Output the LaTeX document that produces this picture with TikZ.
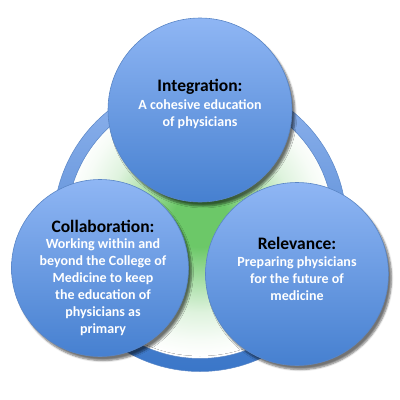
\documentclass[tikz,border=0pt]{standalone}
\usepackage{fontspec}
\setmainfont{Carlito}
\usetikzlibrary{shadows.blur}
\definecolor{ctop}{HTML}{8FB6F4}
\definecolor{cbot}{HTML}{4680D0}
\definecolor{cline}{HTML}{5A86C6}
\definecolor{rtop}{HTML}{90B4EE}
\definecolor{rbot}{HTML}{3A76C8}
\definecolor{gin}{HTML}{6CC868}
\pgfdeclareradialshading{greenfade}{\pgfpoint{0bp}{0bp}}{color(0bp)=(gin); color(5bp)=(gin); color(11bp)=(gin!60!white); color(17bp)=(gin!22!white); color(22bp)=(gin!6!white); color(25bp)=(white); color(50bp)=(white)}
\tikzset{
  bubble/.style={circle, draw=cline, line width=0.6pt, top color=ctop, bottom color=cbot, inner sep=0pt,
    blur shadow={shadow xshift=3pt, shadow yshift=-4pt, shadow blur steps=6, shadow opacity=55}},
  ttl/.style={font=\bfseries\fontsize{17.5}{20}\selectfont, text=black},
  bdy/.style={font=\bfseries\fontsize{14}{17}\selectfont, text=white, align=center},
}
\begin{document}
\begin{tikzpicture}[x=1pt,y=-1pt]
\useasboundingbox (0,0) rectangle (400,400);
% inner green disc
\fill[shading=greenfade] (200,220) circle (136);
% ring
\path[even odd rule, draw=cline, line width=0.5pt, top color=rtop, bottom color=rbot]
  (200,225) circle (146.5) (200,225) circle (133.5);
\node[bubble, minimum size=184pt] (top) at (200,110) {};
\node[bubble, minimum size=177pt] (left) at (100,268) {};
\node[bubble, minimum size=183pt] (right) at (297,274) {};
\node[ttl] (t1) at (200,87) {Integration:};
\node[bdy] (b1) at (200,114) {A cohesive education\\of physicians};
\node[ttl] (t2) at (103,226) {Collaboration:};
\node[bdy] (b2) at (103,287) {Working within and\\beyond the College of\\Medicine to keep\\the education of\\physicians as\\primary};
\node[ttl] (t3) at (297,243) {Relevance:};
\node[bdy] (b3) at (297,279) {Preparing physicians\\for the future of\\medicine};
\end{tikzpicture}
\end{document}
